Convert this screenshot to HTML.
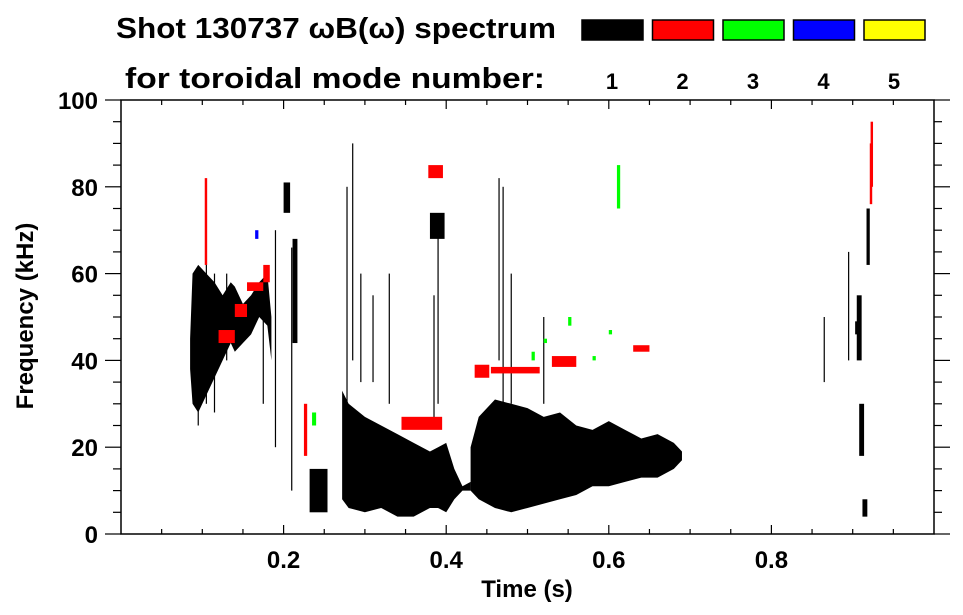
<!DOCTYPE html>
<html><head><meta charset="utf-8"><style>
html,body{margin:0;padding:0;background:#fff;}
svg{display:block;font-family:"Liberation Sans",sans-serif;font-weight:bold;}
</style></head><body>
<svg id="chart" width="963" height="615" viewBox="0 0 963 615" xmlns="http://www.w3.org/2000/svg">
<text x="116" y="38" font-size="29" textLength="440" lengthAdjust="spacingAndGlyphs">Shot 130737 ωB(ω) spectrum</text>
<text x="125" y="88" font-size="29" textLength="420" lengthAdjust="spacingAndGlyphs">for toroidal mode number:</text>
<g id="legend"></g>
<g id="marks"></g>
<g id="axes"></g>
<text x="527" y="597" font-size="24" text-anchor="middle">Time (s)</text>
<text transform="translate(33,316) rotate(-90)" font-size="24" text-anchor="middle">Frequency (kHz)</text>
</svg>
<script>
const modeColors = ['#000000','#ff0000','#00ff00','#0000ff','#ffff00'];
const modeLabels = ['1','2','3','4','5'];
const xTicks = [0.2,0.4,0.6,0.8];
const yTicks = [0,20,40,60,80,100];
// envelopes of dense mode-1 regions: [times], [top kHz], [bottom kHz]
const env1T = [0.085,0.088,0.095,0.105,0.115,0.125,0.135,0.14,0.15,0.16,0.17,0.18,0.185];
const env1Top = [45,60,62,60,58,55,58,57,53,55,58,60,50];
const env1Bot = [38,30,28,32,36,40,44,42,44,46,50,48,40];
const env2T = [0.272,0.28,0.30,0.32,0.34,0.36,0.38,0.39,0.40,0.41,0.42,0.43];
const env2Top = [33,30,27,25,23,21,19,20,21,15,11,12];
const env2Bot = [8,6,5,6,4,4,6,6,5,8,10,10];
const env3T = [0.43,0.44,0.46,0.48,0.50,0.52,0.54,0.56,0.58,0.60,0.62,0.64,0.66,0.68,0.69];
const env3Top = [20,27,31,30,29,27,28,25,24,26,24,22,23,21,19];
const env3Bot = [10,8,6,5,6,7,8,9,11,11,12,13,13,15,17];
// patches: time, low kHz, high kHz, duration (s), mode
const patchT  = [0.200,0.211,0.232,0.380,0.378,0.345,0.435,0.455,0.53,0.63,0.103,0.12,0.14,0.155,0.175,0.225,0.235,0.165,0.505,0.52,0.55,0.58,0.60,0.61,0.905,0.908,0.903,0.912,0.917,0.921,0.922];
const patchF0 = [74,44,5,68,82,24,36,37,38.5,42,62,44,50,56,58,18,25,68,40,44,48,40,46,75,40,18,46,4,62,76,80];
const patchF1 = [81,68,15,74,85,27,39,38.5,41,43.5,82,47,53,58,62,30,28,70,42,45,50,41,47,85,55,30,49,8,75,90,95];
const patchDt = [0.008,0.006,0.022,0.018,0.018,0.050,0.018,0.06,0.03,0.02,0.003,0.02,0.015,0.02,0.008,0.004,0.005,0.004,0.004,0.004,0.004,0.004,0.004,0.004,0.006,0.006,0.004,0.006,0.004,0.003,0.003];
const patchMode = [1,1,1,1,2,2,2,2,2,2,2,2,2,2,2,2,3,4,3,3,3,3,3,3,1,1,1,1,1,2,2];
// thin vertical streaks: time, low kHz, high kHz
const streakT  = [0.095,0.105,0.115,0.13,0.175,0.19,0.21,0.278,0.285,0.295,0.31,0.33,0.385,0.39,0.465,0.47,0.48,0.52,0.865,0.895];
const streakF0 = [25,30,28,40,30,20,10,25,40,35,35,30,25,30,40,30,30,30,35,40];
const streakF1 = [45,70,60,60,58,70,66,80,90,60,55,60,55,70,82,80,60,50,50,65];

const svgNS='http://www.w3.org/2000/svg';
const X0=121,X1=934,Y0=534,Y1=100;
function xs(t){return X0+(X1-X0)*t;}
function ys(f){return Y0-(Y0-Y1)*f/100;}
function mk(tag,attrs,parent){const e=document.createElementNS(svgNS,tag);for(const k in attrs)e.setAttribute(k,attrs[k]);parent.appendChild(e);return e;}
const marks=document.getElementById('marks');
const axes=document.getElementById('axes');
const legend=document.getElementById('legend');

function envelope(T,top,bot,name){
  let pts=T.map((t,i)=>xs(t)+','+ys(top[i]));
  for(let i=T.length-1;i>=0;i--)pts.push(xs(T[i])+','+ys(bot[i]));
  const p=mk('polygon',{points:pts.join(' '),fill:'#000'},marks);
  
  
}
envelope(env1T,env1Top,env1Bot,'mode1-region-early');
envelope(env2T,env2Top,env2Bot,'mode1-region-mid');
envelope(env3T,env3Top,env3Bot,'mode1-region-late');

streakT.forEach((t,i)=>{
  const r=mk('rect',{x:xs(t)-0.6,y:ys(streakF1[i]),width:1.2,height:ys(streakF0[i])-ys(streakF1[i]),fill:'#000'},marks);
  
  
});
patchT.forEach((t,i)=>{
  const r=mk('rect',{x:xs(t),y:ys(patchF1[i]),width:Math.max(2,xs(t+patchDt[i])-xs(t)),height:ys(patchF0[i])-ys(patchF1[i]),fill:modeColors[patchMode[i]-1]},marks);
  
  
});

const fr=mk('rect',{x:X0,y:Y1,width:X1-X0,height:Y0-Y1,fill:'none',stroke:'#000','stroke-width':1.5},axes);


for(let k=1;k<20;k++){
  const t=k*0.05, major=k%4===0, L=major?9:5;
  mk('line',{x1:xs(t),x2:xs(t),y1:Y0,y2:Y0-L,stroke:'#000','stroke-width':1.2},axes);
  mk('line',{x1:xs(t),x2:xs(t),y1:Y1,y2:Y1+L,stroke:'#000','stroke-width':1.2},axes);
}
xTicks.forEach(t=>{
  const tx=mk('text',{x:xs(t),y:568,'font-size':24,'text-anchor':'middle'},axes);
  tx.textContent=t.toFixed(1);
  
  
});
for(let k=0;k<=20;k++){
  const f=k*5, major=k%4===0, L=major?16:8;
  mk('line',{x1:X0,x2:X0-L,y1:ys(f),y2:ys(f),stroke:'#000','stroke-width':1.2},axes);
  mk('line',{x1:X1,x2:X1+L,y1:ys(f),y2:ys(f),stroke:'#000','stroke-width':1.2},axes);
}
yTicks.forEach(f=>{
  const tx=mk('text',{x:98,y:ys(f)+9,'font-size':24,'text-anchor':'end'},axes);
  tx.textContent=String(f);
  
  
});
modeColors.forEach((c,i)=>{
  const x=582+i*70.5;
  const r=mk('rect',{x:x,y:20,width:61,height:20,fill:c,stroke:'#000','stroke-width':1.5},legend);
  
  
  const tx=mk('text',{x:x+30,y:89,'font-size':22,'text-anchor':'middle'},legend);
  tx.textContent=modeLabels[i];
  
  
});
</script>
</body></html>
